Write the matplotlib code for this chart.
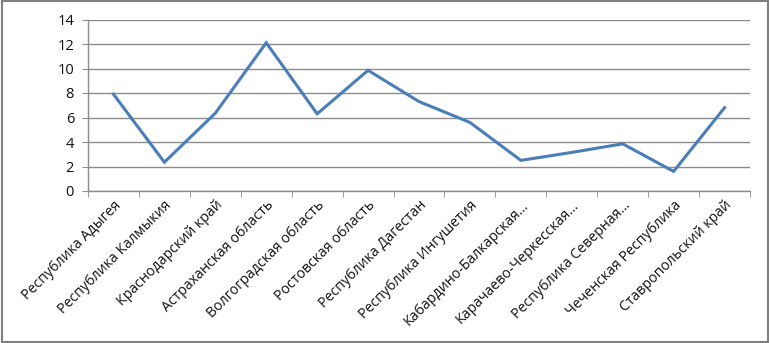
import matplotlib
matplotlib.use("Agg")
import matplotlib.pyplot as plt
import numpy as np
from matplotlib.patches import Rectangle

regions = ["Республика Адыгея", "Республика Калмыкия", "Краснодарский край",
           "Астраханская область", "Волгоградская область", "Ростовская область",
           "Республика Дагестан", "Республика Ингушетия", "Кабардино-Балкарская...",
           "Карачаево-Черкесская...", "Республика Северная...", "Чеченская Республика",
           "Ставропольский край"]
values = [7.9, 2.35, 6.35, 12.1, 6.3, 9.85, 7.3, 5.6, 2.5, 3.15, 3.85, 1.6, 6.8]
yticks = [0, 2, 4, 6, 8, 10, 12, 14]

plt.rcParams['font.family'] = ['Open Sans', 'DejaVu Sans']

fig = plt.figure(figsize=(7.7, 3.43), dpi=100)
ax = fig.add_axes([88/770, 1 - 191/343, 662/770, 171.5/343])

x = np.arange(len(regions))
ax.plot(x, values, color="#4A7EBB", linewidth=2.2, solid_joinstyle="miter")

ax.set_xlim(-0.5, len(regions) - 0.5)
ax.set_ylim(0, 14)
ax.set_yticks(yticks)
ax.set_yticklabels([str(v) for v in yticks], fontsize=10.5, color="#111111")
ax.yaxis.grid(True, color="#8c8c8c", linewidth=1.0)
ax.set_axisbelow(True)

ax.set_xticks(x)
ax.set_xticklabels(regions, rotation=45, ha="right", rotation_mode="anchor",
                   fontsize=10.2, color="#111111")
ax.tick_params(axis="x", which="major", length=0, pad=5)
ax.set_xticks(np.arange(-0.5, len(regions), 1), minor=True)
ax.tick_params(axis="x", which="minor", length=4, color="#8c8c8c", direction="out")
ax.tick_params(axis="y", length=4, color="#8c8c8c", direction="out", pad=6)

for side in ["top", "right"]:
    ax.spines[side].set_visible(False)
for side in ["left", "bottom"]:
    ax.spines[side].set_color("#8c8c8c")
    ax.spines[side].set_linewidth(1.0)

fig.patches.append(Rectangle((0.002, 0.003), 0.995, 0.993, transform=fig.transFigure,
                             fill=False, edgecolor="#7f7f7f", linewidth=1.5))

fig.savefig("out.png", dpi=100)
